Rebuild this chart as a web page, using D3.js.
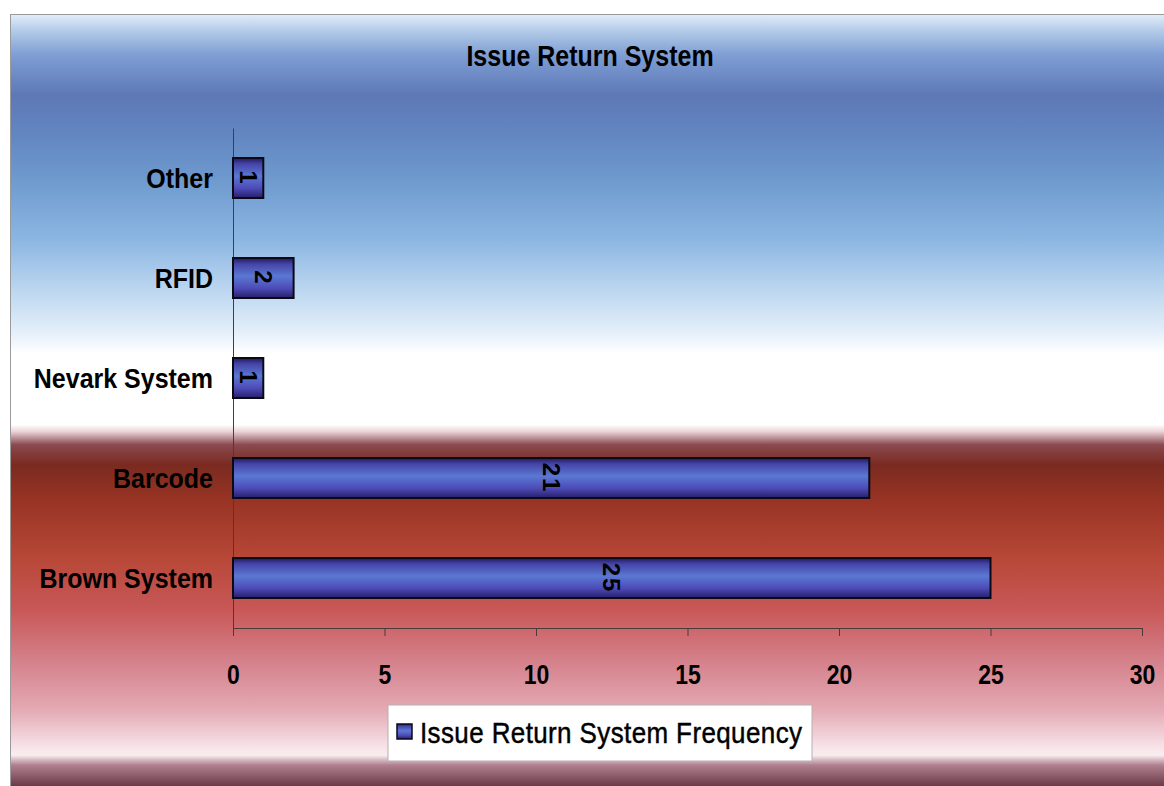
<!DOCTYPE html>
<html>
<head>
<meta charset="utf-8">
<script src="https://cdn.jsdelivr.net/npm/d3@7"></script>
<style>
  html, body { margin: 0; padding: 0; background: #ffffff; }
  svg { display: block; }
  text { font-family: "Liberation Sans", Arial, sans-serif; fill: #000; }
</style>
</head>
<body>
<svg id="chart" width="1164" height="786"></svg>
<script>
// Chart data
const categories = ["Other", "RFID", "Nevark System", "Barcode", "Brown System"];
const frequency = [1, 2, 1, 21, 25];
const xTicks = [0, 5, 10, 15, 20, 25, 30];
const chartTitle = "Issue Return System";
const seriesName = "Issue Return System Frequency";

const svg = d3.select("#chart");
const W = 1164, H = 786;
const frame = { x: 10, y: 14 };
const plot = { left: 233, right: 1142, top: 128, bottom: 628 };

const defs = svg.append("defs");

// Backdrop: blue sky fading to white, then a deep red band fading to pink
const bg = defs.append("linearGradient")
  .attr("id", "bgGrad").attr("x1", 0).attr("y1", 0).attr("x2", 0).attr("y2", 1);
[
  [0.000, "#e4eefa"], [0.021, "#b4cce8"], [0.053, "#7e9ed4"], [0.105, "#5e78b6"],
  [0.150, "#6284c0"], [0.215, "#6e9ace"], [0.293, "#8cb6e2"], [0.357, "#bcd6f0"],
  [0.410, "#e2eef9"], [0.440, "#ffffff"], [0.532, "#ffffff"], [0.541, "#ead2d6"],
  [0.558, "#8a4a50"], [0.584, "#7a2a20"], [0.630, "#983424"], [0.707, "#b84838"],
  [0.772, "#c85858"], [0.837, "#d4808a"], [0.902, "#e4aab4"], [0.947, "#f6e0e6"],
  [0.960, "#f8eef0"], [0.973, "#b08090"], [1.000, "#6a3a48"]
].forEach(([o, c]) => bg.append("stop").attr("offset", o).attr("stop-color", c));

// Bar fill: dark edges with a lighter blue core
const barGrad = defs.append("linearGradient")
  .attr("id", "barGrad").attr("x1", 0).attr("y1", 0).attr("x2", 0).attr("y2", 1);
[
  [0.00, "#1e1a5e"], [0.15, "#4644a8"], [0.45, "#5a78d2"],
  [0.75, "#4e4cb8"], [1.00, "#261e6c"]
].forEach(([o, c]) => barGrad.append("stop").attr("offset", o).attr("stop-color", c));

svg.append("rect").attr("x", 0).attr("y", 0).attr("width", W).attr("height", H).attr("fill", "#fff");
svg.append("rect")
  .attr("x", frame.x).attr("y", frame.y)
  .attr("width", W - frame.x).attr("height", H - frame.y)
  .attr("fill", "url(#bgGrad)");
svg.append("line").attr("x1", frame.x).attr("x2", W).attr("y1", frame.y + 0.5).attr("y2", frame.y + 0.5)
  .attr("stroke", "#9a9a9a").attr("stroke-width", 1);
svg.append("line").attr("x1", frame.x + 0.5).attr("x2", frame.x + 0.5).attr("y1", frame.y).attr("y2", H)
  .attr("stroke", "#9a9a9a").attr("stroke-width", 1);

// Scales
const x = d3.scaleLinear().domain([0, 30]).range([plot.left, plot.right]);
const y = d3.scaleBand().domain(categories).range([plot.top, plot.bottom])
  .paddingInner(0.6).paddingOuter(0.3);

// Title
svg.append("text")
  .attr("transform", `translate(590,66) scale(1,1.18)`)
  .attr("text-anchor", "middle")
  .attr("font-size", 25).attr("font-weight", "bold")
  .text(chartTitle);

// X axis
const xAxis = d3.axisBottom(x).tickValues(xTicks).tickSize(8).tickSizeOuter(0).tickPadding(10);
const gx = svg.append("g").attr("transform", `translate(0,${plot.bottom})`).call(xAxis);
gx.select(".domain").attr("stroke", "#4a3a3a").attr("stroke-width", 1);
gx.selectAll(".tick line").attr("stroke", "#4a3a3a");
gx.selectAll(".tick text")
  .attr("font-size", 23).attr("font-weight", "bold")
  .attr("font-family", "'Liberation Sans', Arial, sans-serif")
  .attr("fill", "#000")
  .attr("dy", null).attr("y", null)
  .attr("transform", "translate(0,56) scale(1,1.2)");

// Y axis (category labels, no tick marks)
const yAxis = d3.axisLeft(y).tickSize(0).tickPadding(20);
const gy = svg.append("g").attr("transform", `translate(${plot.left},0)`).call(yAxis);
gy.select(".domain").attr("stroke", "#4a3a3a").attr("stroke-width", 1);
gy.selectAll(".tick text")
  .attr("font-size", 25).attr("font-weight", "bold")
  .attr("font-family", "'Liberation Sans', Arial, sans-serif")
  .attr("fill", "#000")
  .attr("dy", null).attr("x", null)
  .attr("transform", "translate(-20,10) scale(1,1.1)");

// Bars
const data = categories.map((c, i) => ({ c, v: frequency[i] }));
svg.append("g").selectAll("rect").data(data).join("rect")
  .attr("x", x(0))
  .attr("y", d => y(d.c))
  .attr("width", d => x(d.v) - x(0))
  .attr("height", y.bandwidth())
  .attr("fill", "url(#barGrad)")
  .attr("stroke", "#0a0a14").attr("stroke-width", 2);

// Value labels, rotated inside each bar
svg.append("g").selectAll("text").data(data).join("text")
  .attr("transform", d => `translate(${(x(0) + x(d.v)) / 2},${y(d.c) + y.bandwidth() / 2}) rotate(90)`)
  .attr("text-anchor", "middle").attr("dy", "0.36em")
  .attr("font-size", 24).attr("font-weight", "bold")
  .attr("letter-spacing", 2)
  .text(d => d.v);

// Legend
const lg = svg.append("g").attr("transform", "translate(388,705)");
lg.append("rect").attr("width", 424).attr("height", 56)
  .attr("fill", "#ffffff").attr("stroke", "#b8b0b0").attr("stroke-width", 1);
lg.append("rect").attr("x", 9).attr("y", 19).attr("width", 15).attr("height", 15)
  .attr("fill", "url(#barGrad)").attr("stroke", "#0a0a14").attr("stroke-width", 1.5);
lg.append("text")
  .attr("transform", "translate(32,38) scale(1,1.15)")
  .attr("font-size", 26)
  .attr("stroke", "#000").attr("stroke-width", 0.4)
  .attr("textLength", 382).attr("lengthAdjust", "spacing")
  .text(seriesName);
</script>
</body>
</html>
